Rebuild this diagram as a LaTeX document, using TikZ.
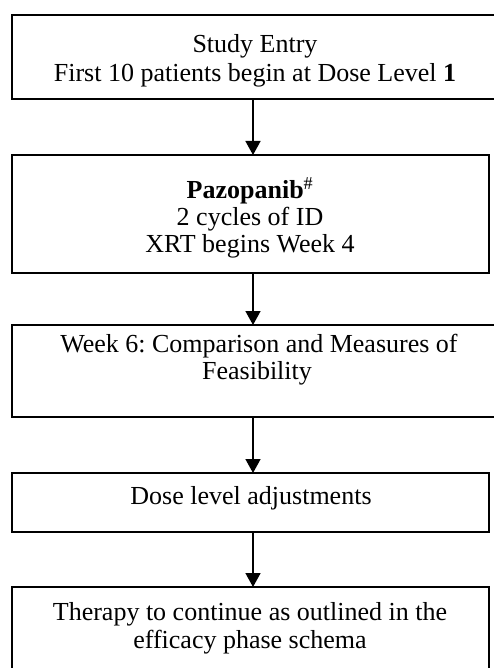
\documentclass[tikz,border=0pt]{standalone}
\usepackage{fontspec}
\setmainfont{Liberation Serif}
\usetikzlibrary{arrows.meta}
\frenchspacing
\begin{document}
\begin{tikzpicture}[x=1bp,y=-1bp,
  box/.style={draw, line width=1.6bp, rectangle, inner sep=0pt, outer sep=0pt},
  txt/.style={anchor=base, inner sep=0pt, font=\fontsize{26bp}{27bp}\selectfont\frenchspacing},
  arr/.style={line width=1.6bp, -{Triangle[width=15bp,length=14bp]}}]
\useasboundingbox (0,0) rectangle (494,668);
% boxes
\node[box, minimum width=488bp, minimum height=84bp]  (b1) at (256,57) {};
\node[box, minimum width=477bp, minimum height=118bp] (b2) at (250.5,214) {};
\node[box, minimum width=488bp, minimum height=92bp]  (b3) at (256,371) {};
\node[box, minimum width=477bp, minimum height=59bp]  (b4) at (250.5,502.5) {};
\node[box, minimum width=477bp, minimum height=103bp] (b5) at (250.5,638.5) {};
% texts
\node[txt] (t1a) at (255,53) {Study Entry};
\node[txt] (t1b) at (255,82) {First 10 patients begin at Dose Level \textbf{1}};
\node[txt] (t2a) at (250,198) {\textbf{Pazopanib}\textsuperscript{\mdseries\#}};
\node[txt] (t2b) at (250,225) {2 cycles of ID};
\node[txt] (t2c) at (250,252) {XRT begins Week 4};
\node[txt] (t3a) at (259,352) {Week 6: Comparison and Measures of};
\node[txt] (t3b) at (257,379) {Feasibility};
\node[txt] (t4a) at (251,504) {Dose level adjustments};
\node[txt] (t5a) at (250,620) {Therapy to continue as outlined in the};
\node[txt] (t5b) at (250,648) {efficacy phase schema};
% arrows
\coordinate (ax) at (253,0);
\draw[arr] (b1.south -| ax) -- (b2.north -| ax);
\draw[arr] (b2.south -| ax) -- (b3.north -| ax);
\draw[arr] (b3.south -| ax) -- (b4.north -| ax);
\draw[arr] (b4.south -| ax) -- (b5.north -| ax);
\end{tikzpicture}
\end{document}
